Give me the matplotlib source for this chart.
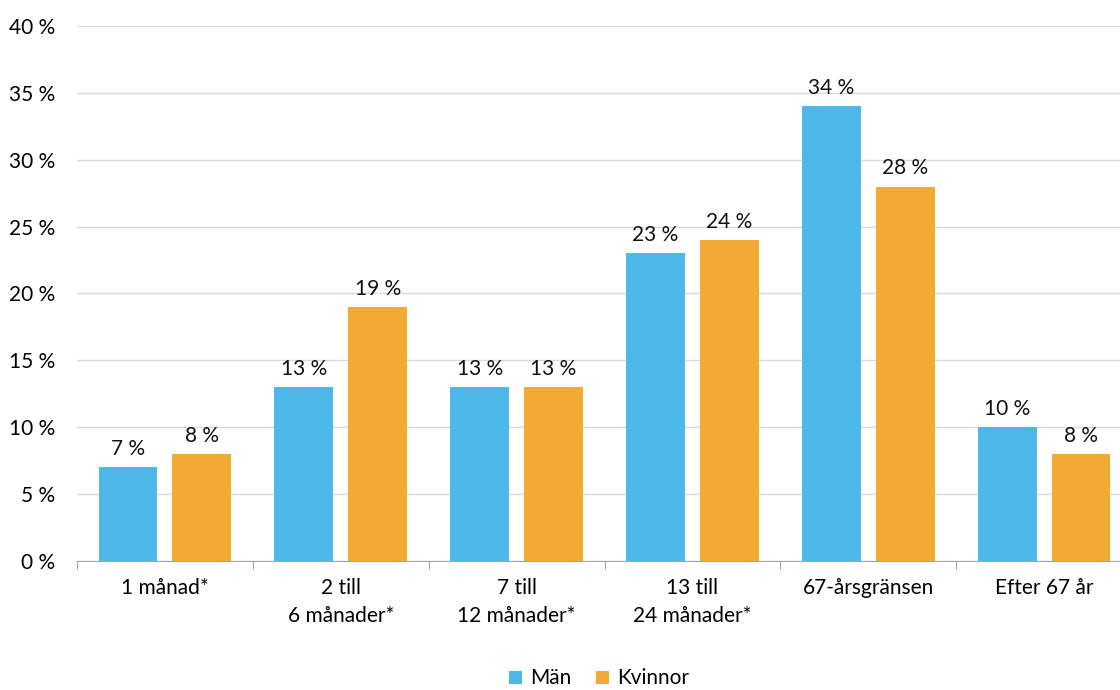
import matplotlib.pyplot as plt
import numpy as np

plt.rcParams['font.family'] = ['Lato', 'DejaVu Sans']

# categories and values (percent)
categories = ['1 månad*', '2 till\n6 månader*', '7 till\n12 månader*',
              '13 till\n24 månader*', '67-årsgränsen', 'Efter 67 år']
man = [7, 13, 13, 23, 34, 10]
kvinnor = [8, 19, 13, 24, 28, 8]

blue = '#4DB8E8'
orange = '#F2AA33'

fig = plt.figure(figsize=(11.2, 6.9), dpi=100)
ax = fig.add_axes([0.06875, 0.187, 0.942, 0.7753])

x = np.arange(len(categories))
w = 0.335
off = 0.21
b1 = ax.bar(x - off, man, w, color=blue, label='Män', zorder=3)
b2 = ax.bar(x + off, kvinnor, w, color=orange, label='Kvinnor', zorder=3)

for bars, vals in ((b1, man), (b2, kvinnor)):
    for b, v in zip(bars, vals):
        ax.text(b.get_x() + b.get_width() / 2, v + 0.6, f'{v} %',
                ha='center', va='bottom', fontsize=15, color='#111111')

ax.set_xlim(-0.5, len(categories) - 0.5)
ax.set_ylim(0, 40)
ax.set_yticks(range(0, 41, 5))
ax.set_yticklabels([f'{t} %' for t in range(0, 41, 5)], fontsize=15)
ax.yaxis.grid(True, color='#d9d9d9', linewidth=1, zorder=0)
ax.tick_params(axis='y', length=0, pad=16)

# category labels between the tick marks
ax.set_xticks(np.arange(-0.5, len(categories), 1))
ax.set_xticklabels([])
ax.set_xticks(x, minor=True)
ax.set_xticklabels(categories, minor=True, fontsize=15, linespacing=1.55)
ax.tick_params(axis='x', which='major', length=6, color='#a6a6a6', direction='out')
ax.tick_params(axis='x', which='minor', length=0, pad=12)

for s in ('top', 'right', 'left'):
    ax.spines[s].set_visible(False)
ax.spines['bottom'].set_color('#a6a6a6')

fig.legend(handles=[b1, b2], loc='lower center', bbox_to_anchor=(0.535, -0.025),
           ncol=2, frameon=False, fontsize=15, handlelength=0.6, handleheight=0.6,
           columnspacing=1.2, handletextpad=0.4)

fig.savefig('out.png', dpi=100)
